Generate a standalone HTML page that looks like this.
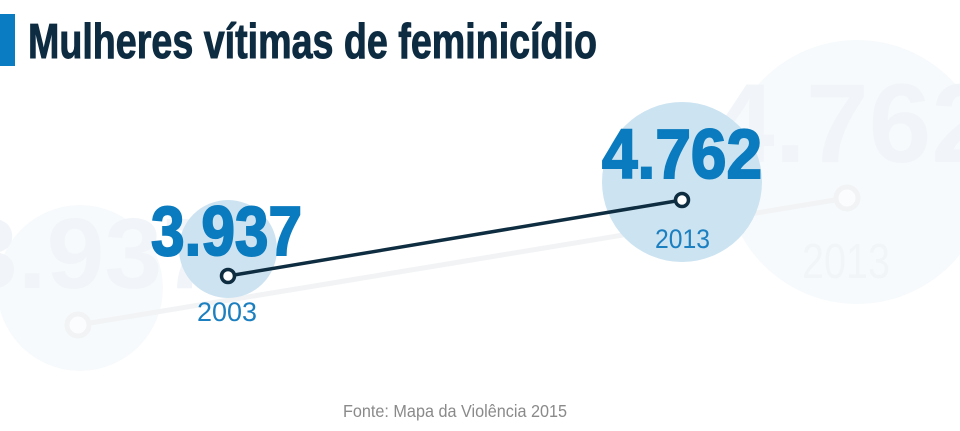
<!DOCTYPE html>
<html>
<head>
<meta charset="utf-8">
<style>
  html, body { margin: 0; padding: 0; background: #ffffff; }
  body { width: 960px; height: 431px; overflow: hidden; }
  svg { display: block; }
</style>
</head>
<body>
<svg width="960" height="431" viewBox="0 0 960 431" xmlns="http://www.w3.org/2000/svg">
  <rect x="0" y="0" width="960" height="431" fill="#ffffff"/>

  <!-- Ghost background layer -->
  <circle cx="80" cy="288" r="83" fill="#f7fafc"/>
  <circle cx="857" cy="172" r="132" fill="#f7fafc"/>
  <text x="-40" y="288" font-family="Liberation Sans, sans-serif" font-weight="bold" font-size="100" fill="#f1f5f9" textLength="260" lengthAdjust="spacingAndGlyphs">3.937</text>
  <text x="712" y="162" font-family="Liberation Sans, sans-serif" font-weight="bold" font-size="112" fill="#f1f5f9" textLength="282" lengthAdjust="spacingAndGlyphs">4.762</text>
  <text x="802" y="278" font-family="Liberation Sans, sans-serif" font-size="49" fill="#f2f5f8" textLength="88" lengthAdjust="spacingAndGlyphs">2013</text>
  <line x1="78" y1="325" x2="847" y2="198" stroke="#f1f3f5" stroke-width="5"/>
  <circle cx="78" cy="325" r="11" fill="#fbfcfd" stroke="#f1f3f5" stroke-width="5"/>
  <circle cx="847" cy="198" r="11" fill="#fbfcfd" stroke="#f1f3f5" stroke-width="5"/>

  <!-- Title -->
  <rect x="0" y="14" width="15" height="52" fill="#0a7cc1"/>
  <text x="28" y="58" font-family="Liberation Sans, sans-serif" font-weight="bold" font-size="49" fill="#0d2b41" stroke="#0d2b41" stroke-width="1" textLength="569" lengthAdjust="spacingAndGlyphs">Mulheres vítimas de feminicídio</text>

  <!-- Main circles -->
  <circle cx="228" cy="249" r="49" fill="#cde3f1"/>
  <circle cx="682" cy="182" r="80" fill="#cce3f1"/>

  <!-- Main line -->
  <line x1="228" y1="276" x2="682" y2="200" stroke="#0f2d40" stroke-width="3.5"/>
  <circle cx="228" cy="276" r="6.5" fill="#ffffff" stroke="#0f2d40" stroke-width="3.5"/>
  <circle cx="682" cy="200" r="6.5" fill="#ffffff" stroke="#0f2d40" stroke-width="3.5"/>

  <!-- Values -->
  <text x="151" y="255" font-family="Liberation Sans, sans-serif" font-weight="bold" font-size="70" fill="#0a7bbe" stroke="#0a7bbe" stroke-width="2" textLength="151" lengthAdjust="spacingAndGlyphs">3.937</text>
  <text x="602" y="178" font-family="Liberation Sans, sans-serif" font-weight="bold" font-size="70" fill="#0a7bbe" stroke="#0a7bbe" stroke-width="2" textLength="160" lengthAdjust="spacingAndGlyphs">4.762</text>

  <!-- Years -->
  <text x="197" y="321" font-family="Liberation Sans, sans-serif" font-size="27" fill="#1b7fc0" textLength="60" lengthAdjust="spacingAndGlyphs">2003</text>
  <text x="655" y="248" font-family="Liberation Sans, sans-serif" font-size="27" fill="#1b7fc0" textLength="55" lengthAdjust="spacingAndGlyphs">2013</text>

  <!-- Footer -->
  <text x="343" y="417" font-family="Liberation Sans, sans-serif" font-size="17.5" fill="#8a8a8a" textLength="224" lengthAdjust="spacingAndGlyphs">Fonte: Mapa da Violência 2015</text>
</svg>
</body>
</html>
